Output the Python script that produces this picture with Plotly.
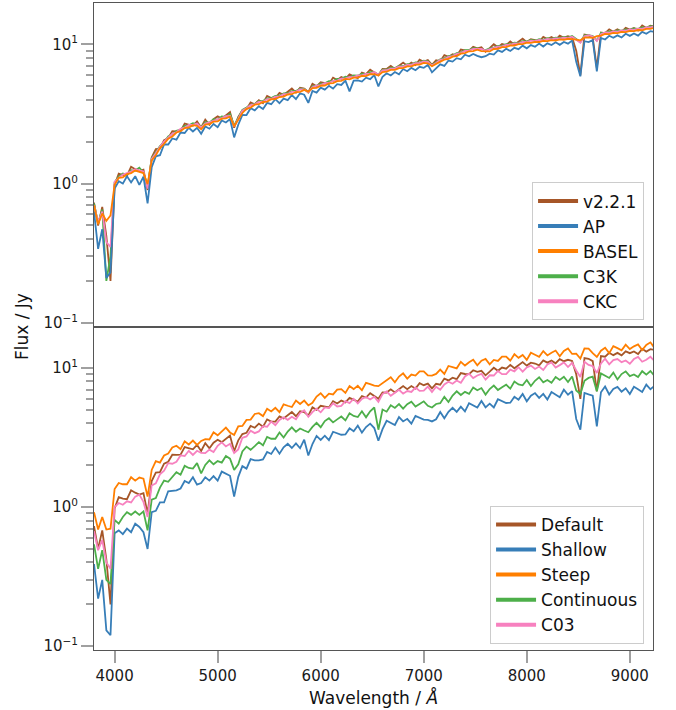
import numpy as np
import plotly.graph_objects as go
from plotly.subplots import make_subplots

# Wavelength grid (Angstrom) shared by every spectrum
WAVELENGTH = np.arange(3800, 9241, 40)

# ---- Upper panel: stellar library variants (flux in Jy) ----
V221 = [
    0.73, 0.50, 0.68, 0.42, 0.20, 0.98, 1.18, 1.15, 1.14, 1.32,
    1.27, 1.23, 1.26, 0.90, 1.54, 1.77, 1.78, 2.05, 2.12, 2.38,
    2.37, 2.38, 2.70, 2.65, 2.60, 2.80, 2.53, 2.88, 2.65, 2.90,
    3.05, 2.93, 3.08, 3.27, 2.52, 3.02, 3.35, 3.42, 3.83, 3.72,
    3.98, 3.78, 4.27, 4.12, 4.12, 4.48, 4.34, 4.55, 4.82, 4.50,
    4.88, 4.82, 4.55, 5.21, 5.00, 5.35, 5.30, 5.20, 5.78, 5.56,
    5.83, 5.66, 6.10, 5.95, 5.74, 6.29, 6.13, 6.59, 6.27, 6.00,
    6.68, 6.66, 7.02, 6.67, 7.04, 7.41, 7.04, 7.42, 7.10, 7.78,
    7.52, 7.72, 7.14, 7.70, 7.58, 8.39, 8.14, 8.51, 8.30, 9.18,
    9.05, 9.03, 9.63, 9.37, 9.54, 8.85, 9.40, 10.03, 9.54, 10.07,
    9.89, 10.53, 9.95, 10.45, 11.01, 10.40, 10.92, 10.76, 10.45, 11.34,
    10.92, 11.29, 10.81, 11.56, 11.18, 11.45, 11.22, 9.00, 6.00, 11.77,
    11.64, 11.20, 6.80, 12.18, 12.04, 12.85, 12.36, 12.83, 12.32, 13.16,
    12.77, 13.13, 12.60, 13.72, 13.11, 13.65, 13.49,
]
AP = [
    0.63, 0.34, 0.47, 0.21, 0.23, 0.92, 1.04, 1.00, 1.13, 1.02,
    1.13, 0.98, 1.12, 0.72, 1.31, 1.57, 1.60, 1.91, 1.91, 2.11,
    2.07, 2.33, 2.31, 2.52, 2.37, 2.52, 2.28, 2.57, 2.48, 2.68,
    2.54, 2.84, 2.75, 2.91, 2.15, 2.65, 3.12, 3.11, 3.48, 3.36,
    3.60, 3.44, 3.80, 3.72, 4.04, 3.78, 4.08, 3.98, 4.33, 4.05,
    4.46, 4.35, 3.80, 4.63, 4.51, 4.90, 4.74, 5.04, 4.82, 5.18,
    5.12, 5.49, 4.60, 5.49, 5.51, 5.41, 5.77, 5.63, 6.03, 5.00,
    5.86, 6.21, 5.98, 6.34, 6.10, 6.66, 6.42, 6.79, 6.53, 6.91,
    6.79, 7.13, 6.30, 6.70, 7.20, 7.01, 7.66, 7.53, 7.97, 7.82,
    8.44, 8.23, 8.55, 8.28, 8.10, 8.23, 8.59, 8.46, 9.07, 8.84,
    9.31, 8.97, 9.46, 9.25, 9.80, 9.38, 9.89, 9.63, 10.14, 9.66,
    10.18, 9.90, 10.38, 9.94, 10.42, 10.14, 10.67, 7.50, 5.90, 10.55,
    10.40, 10.75, 6.40, 11.14, 10.86, 11.54, 11.16, 11.62, 11.22, 11.93,
    11.53, 12.00, 11.59, 12.32, 11.95, 12.48, 12.31,
]
BASEL = [
    0.70, 0.51, 0.61, 0.54, 0.59, 0.98, 1.10, 1.11, 1.17, 1.19,
    1.24, 1.21, 1.19, 0.99, 1.47, 1.60, 1.80, 1.93, 2.10, 2.18,
    2.33, 2.38, 2.51, 2.53, 2.63, 2.60, 2.46, 2.65, 2.68, 2.79,
    2.80, 2.93, 2.94, 3.03, 2.58, 2.88, 3.22, 3.45, 3.52, 3.69,
    3.72, 3.86, 3.89, 4.04, 4.05, 4.19, 4.22, 4.37, 4.39, 4.55,
    4.57, 4.72, 4.57, 4.86, 4.87, 5.05, 5.07, 5.25, 5.27, 5.45,
    5.47, 5.65, 5.62, 5.77, 5.77, 5.94, 5.92, 6.11, 6.12, 5.98,
    6.33, 6.37, 6.56, 6.57, 6.76, 6.77, 6.96, 6.97, 7.17, 7.16,
    7.37, 7.32, 6.98, 7.25, 7.47, 7.77, 7.86, 8.17, 8.26, 8.58,
    8.66, 8.93, 8.96, 9.18, 8.96, 8.92, 8.91, 9.28, 9.31, 9.58,
    9.56, 9.83, 9.81, 10.04, 10.06, 10.29, 10.26, 10.44, 10.41, 10.59,
    10.56, 10.74, 10.66, 10.89, 10.81, 10.99, 10.96, 10.85, 10.70, 11.18,
    11.26, 11.15, 11.48, 11.56, 11.90, 11.86, 12.10, 12.06, 12.30, 12.25,
    12.50, 12.46, 12.70, 12.65, 12.95, 12.95, 13.20,
]
C3K = [
    0.72, 0.52, 0.65, 0.20, 0.30, 1.02, 1.12, 1.18, 1.16, 1.25,
    1.24, 1.30, 1.20, 0.95, 1.52, 1.68, 1.86, 1.98, 2.18, 2.26,
    2.40, 2.44, 2.60, 2.62, 2.72, 2.68, 2.55, 2.76, 2.74, 2.90,
    2.88, 3.04, 3.02, 3.16, 2.62, 2.96, 3.38, 3.52, 3.68, 3.74,
    3.92, 3.93, 4.10, 4.12, 4.27, 4.28, 4.45, 4.46, 4.62, 4.63,
    4.82, 4.80, 4.50, 5.00, 5.05, 5.22, 5.25, 5.44, 5.45, 5.65,
    5.66, 5.86, 5.80, 5.99, 5.96, 6.16, 6.10, 6.33, 6.32, 6.05,
    6.60, 6.58, 6.80, 6.78, 7.02, 6.98, 7.22, 7.20, 7.44, 7.40,
    7.64, 7.55, 7.10, 7.45, 7.82, 7.95, 8.26, 8.34, 8.68, 8.74,
    9.10, 9.10, 9.40, 9.36, 9.28, 9.12, 9.36, 9.48, 9.78, 9.78,
    10.04, 10.02, 10.30, 10.24, 10.55, 10.50, 10.78, 10.64, 10.93, 10.80,
    11.10, 10.96, 11.18, 11.12, 11.35, 11.20, 11.50, 10.90, 10.40, 11.60,
    11.65, 11.50, 10.70, 12.10, 12.15, 12.40, 12.35, 12.62, 12.55, 12.85,
    12.75, 13.05, 12.95, 13.25, 13.20, 13.55, 13.45,
]
CKC = [
    0.70, 0.53, 0.63, 0.38, 0.35, 1.03, 1.10, 1.16, 1.19, 1.22,
    1.27, 1.24, 1.22, 0.92, 1.50, 1.65, 1.84, 2.00, 2.12, 2.28,
    2.34, 2.48, 2.52, 2.64, 2.64, 2.70, 2.52, 2.70, 2.76, 2.84,
    2.90, 2.96, 3.05, 3.06, 2.58, 2.92, 3.34, 3.48, 3.66, 3.71,
    3.87, 3.88, 4.04, 4.06, 4.21, 4.22, 4.39, 4.40, 4.56, 4.58,
    4.75, 4.76, 4.52, 4.92, 5.06, 5.10, 5.27, 5.29, 5.48, 5.50,
    5.68, 5.71, 5.82, 5.83, 5.99, 6.00, 6.15, 6.17, 6.35, 6.05,
    6.51, 6.53, 6.71, 6.73, 6.92, 6.93, 7.13, 7.14, 7.33, 7.34,
    7.54, 7.50, 7.05, 7.35, 7.75, 7.85, 8.16, 8.26, 8.57, 8.67,
    8.98, 9.03, 9.30, 9.28, 9.30, 9.03, 9.25, 9.38, 9.66, 9.69,
    9.92, 9.94, 10.17, 10.15, 10.43, 10.40, 10.64, 10.56, 10.79, 10.71,
    10.95, 10.86, 11.05, 11.02, 11.21, 11.12, 11.36, 10.80, 10.30, 11.46,
    11.67, 11.42, 10.60, 11.83, 12.19, 12.14, 12.40, 12.34, 12.60, 12.55,
    12.81, 12.75, 13.01, 12.95, 13.27, 13.26, 13.53,
]

# ---- Lower panel: star-formation / dust variants (flux in Jy) ----
DEFAULT = V221
SHALLOW = [
    0.39, 0.22, 0.30, 0.13, 0.12, 0.65, 0.68, 0.64, 0.70, 0.66,
    0.76, 0.72, 0.66, 0.50, 0.92, 0.94, 1.08, 1.08, 1.30, 1.31,
    1.32, 1.36, 1.54, 1.49, 1.64, 1.45, 1.49, 1.64, 1.55, 1.67,
    1.55, 1.80, 1.74, 1.68, 1.19, 1.65, 1.97, 1.89, 2.21, 2.17,
    2.17, 2.20, 2.49, 2.41, 2.68, 2.42, 2.69, 2.85, 2.66, 2.87,
    2.65, 3.05, 2.35, 2.84, 3.25, 3.04, 3.26, 3.03, 3.48, 3.38,
    3.31, 3.33, 3.68, 3.51, 3.85, 3.43, 3.76, 3.98, 3.70, 3.00,
    3.63, 4.17, 4.03, 3.89, 4.44, 4.13, 4.31, 3.98, 4.53, 4.37,
    4.26, 4.24, 4.13, 4.28, 4.83, 4.35, 4.84, 5.17, 4.84, 5.27,
    4.87, 5.59, 5.41, 5.20, 5.79, 5.21, 5.54, 5.20, 5.96, 5.77,
    5.60, 5.63, 6.22, 5.92, 6.50, 5.76, 6.32, 6.60, 6.10, 6.51,
    5.93, 6.72, 6.44, 6.17, 6.98, 6.42, 6.81, 4.30, 3.60, 6.61,
    6.46, 6.33, 3.80, 6.69, 7.36, 6.45, 7.06, 7.31, 6.75, 7.15,
    6.50, 7.32, 7.03, 6.73, 7.59, 7.03, 7.45,
]
STEEP = [
    0.92, 0.69, 0.85, 0.69, 0.70, 1.35, 1.49, 1.46, 1.46, 1.64,
    1.55, 1.63, 1.60, 1.19, 1.85, 2.14, 2.09, 2.35, 2.43, 2.68,
    2.76, 2.61, 2.97, 2.82, 3.01, 2.80, 2.99, 3.08, 3.06, 3.45,
    3.28, 3.52, 3.73, 3.44, 3.30, 3.80, 3.83, 4.23, 4.26, 4.67,
    4.73, 4.51, 5.09, 4.87, 5.17, 4.81, 5.48, 5.35, 5.24, 5.83,
    5.51, 5.83, 5.38, 5.62, 6.23, 6.58, 6.09, 6.53, 6.45, 6.98,
    7.05, 6.62, 7.42, 7.05, 7.44, 6.91, 7.82, 7.66, 7.47, 7.40,
    7.76, 8.21, 8.59, 7.89, 8.67, 9.15, 8.39, 8.96, 8.81, 9.45,
    9.46, 8.83, 8.81, 9.06, 9.73, 9.07, 10.34, 10.15, 9.94, 11.08,
    10.41, 11.00, 11.45, 10.45, 11.28, 11.61, 10.62, 11.42, 11.24, 12.08,
    12.08, 11.28, 12.56, 11.83, 12.41, 11.42, 12.86, 12.44, 12.03, 13.23,
    12.30, 12.87, 13.34, 12.14, 13.24, 13.82, 12.61, 12.65, 11.68, 13.81,
    13.78, 12.77, 12.00, 13.32, 13.96, 12.78, 14.36, 13.89, 13.41, 14.71,
    13.67, 14.30, 14.78, 13.44, 14.63, 15.28, 13.92,
]
CONTINUOUS = [
    0.54, 0.36, 0.49, 0.30, 0.28, 0.81, 0.76, 0.85, 0.92, 0.88,
    0.93, 0.88, 0.93, 0.68, 1.13, 1.16, 1.38, 1.55, 1.52, 1.65,
    1.78, 1.71, 1.98, 1.91, 1.89, 2.07, 1.75, 2.01, 2.17, 2.03,
    2.14, 2.09, 2.33, 2.23, 1.85, 2.03, 2.51, 2.72, 2.58, 2.74,
    2.93, 2.78, 3.20, 3.10, 3.10, 3.44, 3.16, 3.49, 3.74, 3.48,
    3.67, 3.55, 3.45, 3.77, 4.03, 3.75, 4.15, 4.35, 4.06, 4.27,
    4.48, 4.20, 4.73, 4.52, 4.44, 4.88, 4.42, 4.88, 5.20, 3.60,
    5.03, 4.85, 5.39, 5.16, 5.50, 5.10, 5.49, 5.72, 5.28, 5.51,
    5.76, 5.35, 5.20, 5.51, 5.58, 6.20, 5.69, 6.33, 6.80, 6.39,
    6.73, 6.51, 7.24, 6.91, 7.17, 6.44, 7.06, 7.47, 6.95, 7.28,
    7.58, 7.10, 8.00, 7.62, 7.51, 8.20, 7.42, 8.09, 8.57, 7.89,
    8.20, 7.83, 8.61, 8.20, 8.64, 7.93, 8.68, 6.90, 6.50, 8.08,
    8.48, 8.66, 6.80, 9.13, 8.76, 8.48, 9.26, 8.27, 9.04, 9.46,
    8.73, 8.98, 8.60, 9.48, 8.95, 9.51, 8.75,
]
C03 = [
    0.67, 0.49, 0.58, 0.40, 0.36, 1.00, 1.07, 1.04, 1.10, 1.08,
    1.19, 1.23, 1.09, 0.85, 1.43, 1.48, 1.72, 1.83, 2.07, 2.05,
    2.12, 2.35, 2.33, 2.54, 2.37, 2.54, 2.45, 2.44, 2.59, 2.49,
    2.76, 2.92, 2.73, 2.85, 2.45, 2.60, 3.15, 3.22, 3.54, 3.40,
    3.50, 3.82, 3.78, 4.12, 3.88, 4.23, 4.42, 4.24, 4.46, 4.28,
    4.74, 4.96, 4.46, 4.82, 5.10, 4.80, 5.20, 5.15, 5.57, 5.29,
    5.34, 5.77, 5.59, 6.01, 5.57, 6.00, 6.19, 5.93, 6.21, 5.70,
    6.49, 6.78, 6.31, 6.60, 6.97, 6.53, 6.83, 6.72, 7.23, 6.84,
    6.87, 7.34, 6.72, 7.33, 6.98, 7.62, 7.97, 7.70, 8.13, 7.83,
    8.69, 9.10, 8.47, 8.83, 9.08, 8.24, 8.86, 8.83, 9.52, 9.03,
    9.03, 9.74, 9.46, 10.13, 9.41, 10.09, 10.39, 9.84, 10.24, 9.68,
    10.59, 10.95, 10.07, 10.48, 10.95, 10.15, 10.88, 9.60, 8.60, 11.07,
    10.52, 10.32, 9.20, 10.79, 11.65, 10.62, 11.38, 11.58, 11.00, 11.31,
    10.72, 11.59, 12.02, 11.09, 11.44, 12.03, 11.19,
]

BROWN, BLUE, ORANGE, GREEN, PINK = "#a65628", "#377eb8", "#ff7f00", "#4daf4a", "#f781bf"

# (label, flux, colour) in drawing order; legend order handled by LEGEND lists
TOP_DRAW = [("v2.2.1", V221, BROWN), ("C3K", C3K, GREEN), ("CKC", CKC, PINK),
            ("AP", AP, BLUE), ("BASEL", BASEL, ORANGE)]
TOP_LEGEND = [("v2.2.1", BROWN), ("AP", BLUE), ("BASEL", ORANGE), ("C3K", GREEN), ("CKC", PINK)]

BOTTOM_DRAW = [("Default", DEFAULT, BROWN), ("Shallow", SHALLOW, BLUE), ("Steep", STEEP, ORANGE),
               ("Continuous", CONTINUOUS, GREEN), ("C03", C03, PINK)]
BOTTOM_LEGEND = [("Default", BROWN), ("Shallow", BLUE), ("Steep", ORANGE),
                 ("Continuous", GREEN), ("C03", PINK)]

X_TICKS = [4000, 5000, 6000, 7000, 8000, 9000]
Y_TICKS = [0.1, 1, 10]
Y_TICK_TEXT = ["10<sup>\u22121</sup>", "10<sup>0</sup>", "10<sup>1</sup>"]
Y_MINOR = [0.2, 0.3, 0.4, 0.5, 0.6, 0.7, 0.8, 0.9, 2, 3, 4, 5, 6, 7, 8, 9, 20]

FONT = "DejaVu Sans"
TICK_GREY = "#a0a0a0"
FRAME = "#555555"

fig = make_subplots(rows=2, cols=1, shared_xaxes=True, vertical_spacing=0)

for row, draw, legend_items, legend_id in [(1, TOP_DRAW, TOP_LEGEND, "legend"),
                                           (2, BOTTOM_DRAW, BOTTOM_LEGEND, "legend2")]:
    for name, flux, color in draw:
        assert len(flux) == len(WAVELENGTH)
        fig.add_trace(go.Scatter(x=WAVELENGTH, y=flux, mode="lines", name=name,
                                 line=dict(color=color, width=1.8), showlegend=False),
                      row=row, col=1)
    # thick legend keys
    for rank, (name, color) in enumerate(legend_items):
        fig.add_trace(go.Scatter(x=[None], y=[None], mode="lines", name=name,
                                 line=dict(color=color, width=4), legend=legend_id,
                                 legendgroup=f"{legend_id}-{rank}", legendrank=rank + 1,
                                 hoverinfo="skip"),
                      row=row, col=1)

legend_style = dict(xanchor="right", yanchor="bottom", x=0.984,
                    bgcolor="rgba(255,255,255,0.8)", bordercolor="#cccccc", borderwidth=1,
                    font=dict(family=FONT, size=17, color="#111111"),
                    tracegroupgap=0, itemwidth=40)

fig.update_layout(
    width=676, height=710,
    margin=dict(l=94, r=23, t=3, b=60),
    paper_bgcolor="white", plot_bgcolor="white",
    font=dict(family=FONT, size=15, color="#1a1a1a"),
    legend=dict(y=0.5095, **legend_style),
    legend2=dict(y=0.0095, **legend_style),
)

frame = dict(showline=True, mirror=True, linecolor=FRAME, linewidth=1,
             showgrid=False, zeroline=False)

fig.update_xaxes(range=[3800, 9225], **frame)
fig.update_xaxes(ticks="", showticklabels=False, row=1, col=1)
fig.update_xaxes(tickmode="array", tickvals=X_TICKS, ticks="outside", ticklen=12,
                 tickwidth=2, tickcolor=TICK_GREY, tickfont=dict(size=15), row=2, col=1)

fig.update_yaxes(type="log", range=[-1.027, 1.298], tickmode="array",
                 tickvals=Y_TICKS, ticktext=Y_TICK_TEXT, ticks="outside", ticklen=12,
                 tickwidth=2, tickcolor=TICK_GREY, tickfont=dict(size=15),
                 minor=dict(tickmode="array", tickvals=Y_MINOR, ticks="outside",
                            ticklen=7, tickwidth=1.5, tickcolor=TICK_GREY),
                 **frame)

fig.add_annotation(text="Flux / Jy", xref="paper", yref="paper", x=0, y=0.4992,
                   xshift=-72, xanchor="center", yanchor="middle", textangle=-90,
                   showarrow=False, font=dict(family=FONT, size=17, color="#111111"))
fig.add_annotation(text="Wavelength / <i>\u00c5</i>", xref="paper", yref="paper", x=0.5, y=0,
                   yshift=-47, xanchor="center", yanchor="middle",
                   showarrow=False, font=dict(family=FONT, size=17, color="#111111"))

fig.write_html("out.html")
